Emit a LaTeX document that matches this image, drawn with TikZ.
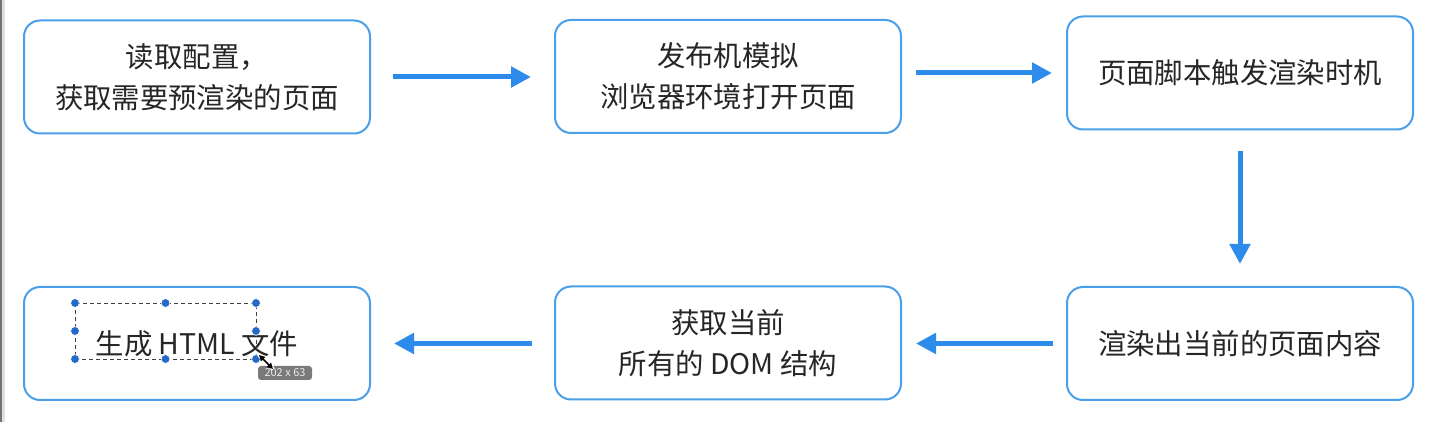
\documentclass[tikz,border=0pt]{standalone}
\usepackage{fontspec}
\setmainfont{Noto Sans CJK SC}
\usetikzlibrary{arrows.meta}
\definecolor{boxblue}{HTML}{4A9FE8}
\definecolor{arrblue}{HTML}{2D8CEB}
\definecolor{handle}{HTML}{2468C8}
\definecolor{tipgray}{HTML}{7A7A7A}
\begin{document}
\begin{tikzpicture}[x=0.5pt,y=-0.5pt,
  stepbox/.style={draw=boxblue, line width=1pt, rounded corners=8pt,
    minimum width=173pt, minimum height=56.5pt, align=center,
    font=\fontsize{14.2}{20.5}\selectfont, inner sep=0pt, text=black!85},
  flow/.style={draw=arrblue, line width=2.5pt, -{Triangle[length=10pt,width=10pt]}},
  hdl/.style={fill=handle, draw=white, line width=0.3pt}]
\useasboundingbox (0,0) rectangle (1437,422);
\fill[white] (0,0) rectangle (1437,422);
\fill[black!55] (0,0) rectangle (2,422);
\fill[black!12] (2,0) rectangle (5,422);

\node[stepbox] (n1) at (197,77) {读取配置，\\获取需要预渲染的页面};
\node[stepbox] (n2) at (728,76.5) {发布机模拟\\浏览器环境打开页面};
\node[stepbox] (n3) at (1240,73) {页面脚本触发渲染时机};
\node[stepbox] (n4) at (1240,343.5) {渲染出当前的页面内容};
\node[stepbox] (n5) at (728,343) {获取当前\\所有的 DOM 结构};
\node[stepbox] (n6) at (197,343.5) {生成 HTML 文件};

\draw[flow, shorten <=11pt, shorten >=11.5pt] (n1.east) -- (n2.west |- n1.east);
\draw[flow, shorten <=7pt, shorten >=7pt] (n2.east |- n3.west) -- (n3.west);
\draw[flow, shorten <=10.5pt, shorten >=11pt] (n3.south) -- (n4.north);
\draw[flow, shorten <=6.5pt, shorten >=7pt] (n4.west) -- (n5.east |- n4.west);
\draw[flow, shorten <=11pt, shorten >=11.5pt] (n5.west |- n6.east) -- (n6.east);

% selection frame around the text
\coordinate (s1) at (75,303);
\coordinate (s2) at (256,359);
\draw[black!75, dashed, line width=0.4pt, dash pattern=on 2pt off 1.5pt] (s1) rectangle (s2);
\foreach \p in {(75,303),(165.5,303),(256,303),(75,331),(256,331),(75,359),(165.5,359),(256,359)}
  \fill[hdl] \p circle (2.2pt);
% size tooltip
\node[fill=tipgray, rounded corners=1.5pt, text=white!92!black, inner sep=1pt,
  font=\fontsize{5.5}{6}\selectfont, minimum width=27pt, minimum height=7pt] (tip) at (285,373) {202 x 63};
% resize cursor
\coordinate (c1) at (259,355);
\coordinate (c2) at (273,369);
\draw[white, line width=2pt] (c1) -- (c2);
\draw[black, line width=0.8pt, {Triangle[length=3pt,width=3pt]}-{Triangle[length=3pt,width=3pt]}] (c1) -- (c2);
\end{tikzpicture}
\end{document}
